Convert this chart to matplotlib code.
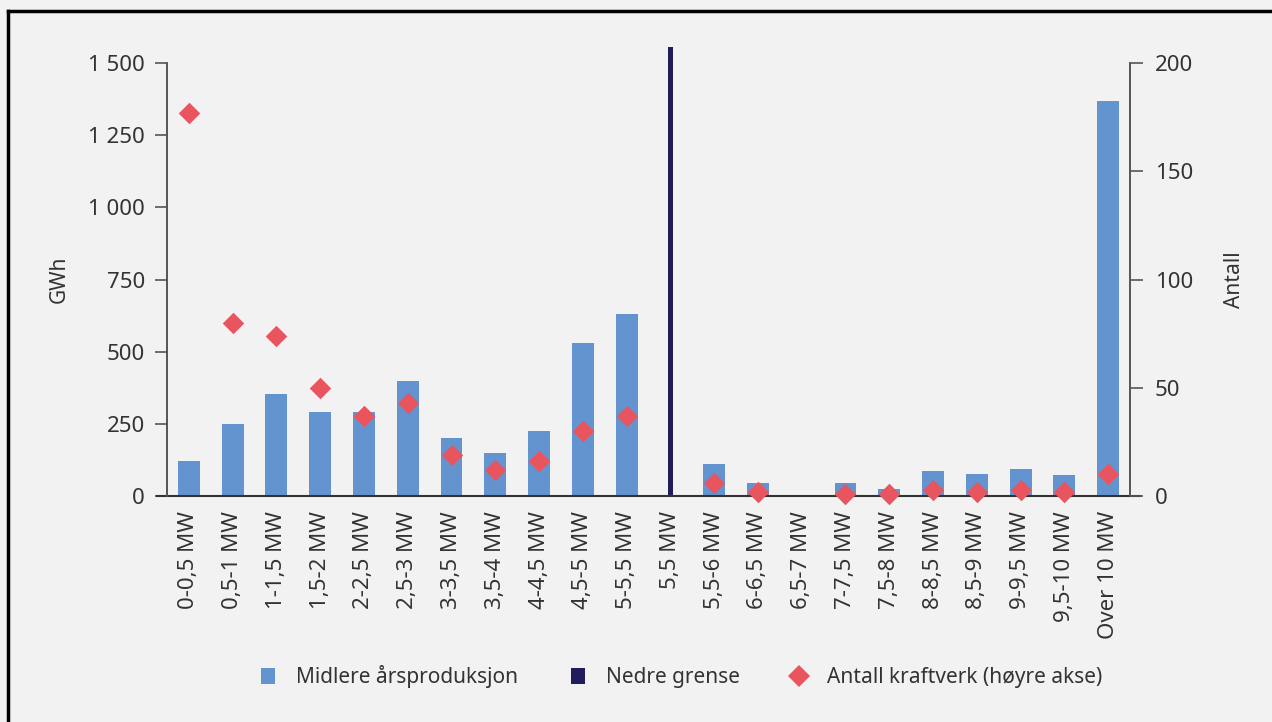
import numpy as np
import matplotlib.pyplot as plt
from matplotlib.lines import Line2D
from matplotlib.patches import Patch

plt.rcParams['font.family'] = ['Noto Sans', 'DejaVu Sans']

categories = ['0-0,5 MW', '0,5-1 MW', '1-1,5 MW', '1,5-2 MW', '2-2,5 MW',
              '2,5-3 MW', '3-3,5 MW', '3,5-4 MW', '4-4,5 MW', '4,5-5 MW',
              '5-5,5 MW', '5,5 MW', '5,5-6 MW', '6-6,5 MW', '6,5-7 MW',
              '7-7,5 MW', '7,5-8 MW', '8-8,5 MW', '8,5-9 MW', '9-9,5 MW',
              '9,5-10 MW', 'Over 10 MW']

# mean annual production, GWh (None where no bar)
production = [121, 249, 353, 291, 291, 398, 201, 149, 225, 530, 630,
              None, 111, 45, 0, 45, 24, 87, 76, 94, 73, 1368]

# lower limit marker sits on the 5,5 MW category
limit_category = '5,5 MW'
limit_value = 1555

# number of plants (right axis)
antall = [177, 80, 74, 50, 37, 43, 19, 12, 16, 30, 37,
          None, 6, 2, None, 1, 1, 3, 2, 3, 2, 10]

bar_color = '#6394cf'
limit_color = '#211d5c'
diamond_color = '#e8555f'
text_color = '#333333'
axis_color = '#555555'
bg = '#f2f2f2'

fig = plt.figure(figsize=(12.72, 7.22), dpi=100, facecolor=bg)
ax = fig.add_axes([167 / 1272, 1 - 496 / 722, (1130 - 167) / 1272, (496 - 63) / 722])
ax.set_facecolor(bg)
ax2 = ax.twinx()

x = np.arange(len(categories))
prod_x = [i for i, v in zip(x, production) if v is not None]
prod_y = [v for v in production if v is not None]
ax.bar(prod_x, prod_y, width=0.5, color=bar_color, zorder=2)

li = categories.index(limit_category)
ax.bar([li], [limit_value], width=0.1, color=limit_color, zorder=3, clip_on=False)

ant_x = [i for i, v in zip(x, antall) if v is not None]
ant_y = [v for v in antall if v is not None]
ax2.scatter(ant_x, ant_y, marker='D', s=120, color=diamond_color,
            linewidths=0, zorder=4, clip_on=False)

ax.set_xlim(-0.5, len(categories) - 0.5)
ax.set_ylim(0, 1500)
ax2.set_ylim(0, 200)

ax.set_yticks([0, 250, 500, 750, 1000, 1250, 1500])
ax.set_yticklabels(['0', '250', '500', '750', '1 000', '1 250', '1 500'])
ax2.set_yticks([0, 50, 100, 150, 200])

ax.set_xticks(x)
ax.set_xticklabels(categories, rotation=90)
ax.tick_params(axis='x', length=0, pad=11, labelsize=16, colors=text_color)
ax.tick_params(axis='y', length=9, width=1.2, color=axis_color, pad=7,
               labelsize=16, labelcolor=text_color)
ax2.tick_params(axis='y', length=9, width=1.2, color=axis_color, pad=9,
                labelsize=16, labelcolor=text_color)

for a in (ax, ax2):
    a.spines['top'].set_visible(False)
    a.spines['bottom'].set_visible(False)
    a.spines['left'].set_color(axis_color)
    a.spines['right'].set_color(axis_color)
    a.spines['left'].set_linewidth(1.2)
    a.spines['right'].set_linewidth(1.2)
ax2.patch.set_visible(False)

# baseline runs out to the tick ends on both sides
ax.plot([-0.01, 1.01], [0, 0], transform=ax.transAxes, color='#333333',
        lw=1.5, clip_on=False, zorder=5)

ax.set_ylabel('GWh', fontsize=15, color=text_color, labelpad=13)
ax2.set_ylabel('Antall', fontsize=15, color=text_color, labelpad=22)

handles = [
    Patch(facecolor=bar_color, label='Midlere årsproduksjon'),
    Patch(facecolor=limit_color, label='Nedre grense'),
    Line2D([], [], marker='D', linestyle='none', markersize=11,
           markerfacecolor=diamond_color, markeredgewidth=0,
           label='Antall kraftverk (høyre akse)'),
]
fig.legend(handles=handles, loc='center', bbox_to_anchor=(0.536, 1 - 677 / 722),
           ncol=3, frameon=False, fontsize=15, labelcolor=text_color,
           handlelength=0.7, handleheight=0.8, columnspacing=2.5, handletextpad=1.0)

# frame lines along the top and left edges
fig.add_artist(Line2D([8 / 1272, 8 / 1272], [0, 1 - 11 / 722], color='black',
                      lw=2.5, transform=fig.transFigure))
fig.add_artist(Line2D([8 / 1272, 1], [1 - 11 / 722, 1 - 11 / 722], color='black',
                      lw=2.5, transform=fig.transFigure))

fig.savefig('out.png', dpi=100, facecolor=bg)
